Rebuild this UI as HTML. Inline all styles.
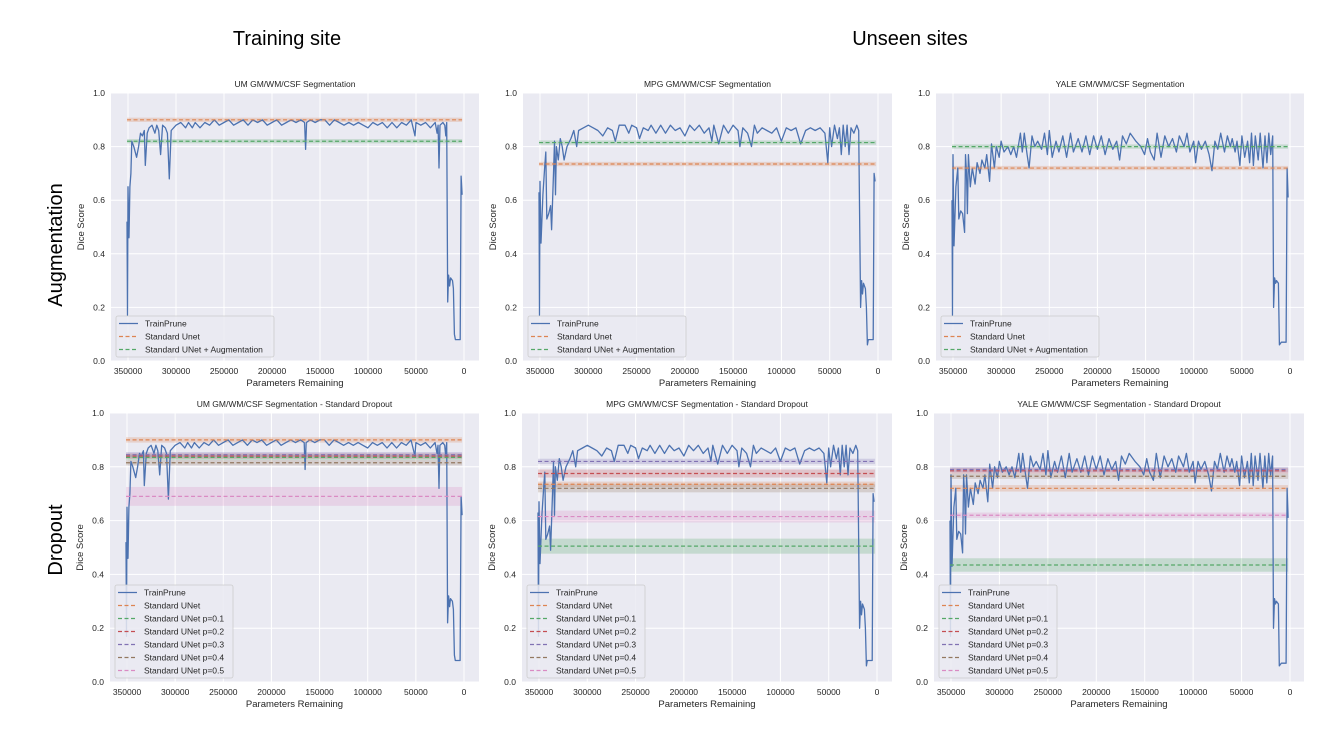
<!DOCTYPE html>
<html><head><meta charset="utf-8"><style>
body{margin:0;background:#fff;width:1333px;height:741px;overflow:hidden;font-family:"Liberation Sans",sans-serif}
</style></head><body>
<svg id="fig" width="1333" height="741" xmlns="http://www.w3.org/2000/svg" font-family="Liberation Sans, sans-serif">
<text x="287" y="45" font-size="20" text-anchor="middle">Training site</text>
<text x="910" y="45" font-size="20" text-anchor="middle">Unseen sites</text>
<text transform="translate(62,245) rotate(-90)" font-size="20" text-anchor="middle">Augmentation</text>
<text transform="translate(62,540) rotate(-90)" font-size="20" text-anchor="middle">Dropout</text>
</svg>
<script>
// TrainPrune data (x in thousands of parameters remaining, y = Dice)
const umX=[351,350.5,350,349,348,347,346,344,341,339,337,335,333,332,330,328,325,322,320,318,316,314,311,309,307,305,300,295,290,287,283,280,275,270,265,260,255,250,245,240,235,230,225,220,215,210,205,200,195,190,185,180,175,170,166,165,164,160,155,150,145,140,135,130,125,120,115,110,105,100,95,90,85,80,75,70,65,60,55,51,50,45,40,35,30,28,27,26,25,22,20,19,18,17,16,15,14,12,11,10,9,6,4,3,2];
const umY=[0.52,0.17,0.65,0.46,0.65,0.7,0.82,0.8,0.76,0.8,0.85,0.84,0.86,0.73,0.85,0.87,0.88,0.85,0.88,0.86,0.77,0.88,0.87,0.85,0.68,0.86,0.88,0.89,0.87,0.89,0.87,0.89,0.87,0.89,0.88,0.9,0.88,0.89,0.9,0.88,0.89,0.9,0.88,0.9,0.89,0.9,0.88,0.89,0.9,0.88,0.89,0.9,0.89,0.9,0.89,0.79,0.89,0.9,0.89,0.9,0.9,0.88,0.9,0.89,0.88,0.89,0.88,0.89,0.88,0.87,0.89,0.88,0.89,0.87,0.89,0.87,0.89,0.88,0.9,0.84,0.89,0.88,0.89,0.87,0.89,0.85,0.88,0.72,0.88,0.89,0.88,0.84,0.89,0.22,0.32,0.28,0.31,0.3,0.27,0.1,0.08,0.08,0.08,0.69,0.62];
const mpgX=[351,350.5,350,349,347,345,344,343,341,339,338,336,335,334,333,331,329,327,325,322,318,315,312,310,305,300,295,290,285,280,275,272,268,262,258,255,250,247,243,238,235,230,225,220,215,210,205,200,195,190,185,180,175,172,170,165,160,155,150,145,143,140,135,131,128,125,120,115,110,105,100,95,90,85,80,75,70,65,60,55,52,50,48,45,42,40,38,36,34,32,30,28,25,22,20,18,17,16,15,13,12,11,10,7,5,4,3];
const mpgY=[0.63,0.17,0.67,0.44,0.62,0.73,0.78,0.53,0.55,0.58,0.49,0.7,0.82,0.62,0.8,0.75,0.83,0.8,0.75,0.8,0.83,0.86,0.8,0.86,0.87,0.88,0.87,0.86,0.84,0.87,0.86,0.82,0.88,0.88,0.85,0.88,0.87,0.83,0.87,0.86,0.88,0.85,0.88,0.85,0.88,0.86,0.87,0.84,0.88,0.86,0.88,0.85,0.87,0.82,0.88,0.81,0.88,0.85,0.88,0.86,0.8,0.87,0.85,0.8,0.88,0.85,0.87,0.86,0.85,0.87,0.82,0.87,0.86,0.87,0.81,0.86,0.87,0.86,0.87,0.85,0.74,0.87,0.8,0.88,0.83,0.87,0.77,0.88,0.8,0.88,0.77,0.87,0.85,0.88,0.86,0.2,0.3,0.25,0.29,0.27,0.2,0.06,0.08,0.08,0.08,0.7,0.67];
const yaleX=[351,350.5,350,349,347,345,344,342,340,338,337,336,335,334,332,330,327,325,322,320,317,315,312,310,307,305,302,300,297,293,290,287,284,280,278,276,273,271,268,265,262,258,255,252,250,247,243,240,236,232,228,225,220,216,212,208,204,200,196,192,188,184,180,177,174,170,166,160,155,151,148,145,141,138,134,130,126,122,118,115,110,107,104,100,98,95,92,88,84,81,78,75,72,68,65,62,60,57,55,52,50,47,44,42,40,38,36,33,31,28,26,24,22,20,18,17,16,15,14,12,11,9,6,4,3,2];
const yaleY=[0.6,0.17,0.77,0.43,0.65,0.72,0.53,0.56,0.55,0.48,0.77,0.7,0.55,0.77,0.65,0.72,0.66,0.74,0.7,0.75,0.72,0.77,0.67,0.81,0.72,0.8,0.76,0.82,0.78,0.8,0.77,0.8,0.76,0.85,0.78,0.85,0.77,0.72,0.84,0.8,0.82,0.79,0.85,0.77,0.86,0.76,0.82,0.78,0.84,0.76,0.85,0.78,0.83,0.78,0.84,0.77,0.84,0.79,0.84,0.77,0.83,0.79,0.82,0.75,0.84,0.81,0.85,0.82,0.8,0.77,0.83,0.78,0.75,0.85,0.76,0.84,0.8,0.83,0.78,0.84,0.8,0.85,0.78,0.82,0.74,0.82,0.79,0.82,0.77,0.71,0.82,0.79,0.85,0.78,0.84,0.8,0.83,0.78,0.82,0.73,0.84,0.76,0.82,0.74,0.85,0.73,0.84,0.75,0.85,0.72,0.84,0.74,0.85,0.77,0.84,0.2,0.31,0.29,0.3,0.29,0.06,0.07,0.07,0.07,0.72,0.61];
// Baseline values (Standard UNet, Augmentation, dropout p=0.1..0.5)
const augLevels={UM:[0.90,0.82],MPG:[0.735,0.815],YALE:[0.72,0.80]};
const dropLevels={UM:[0.90,0.835,0.84,0.845,0.815,0.69],MPG:[0.735,0.505,0.775,0.82,0.72,0.615],YALE:[0.72,0.435,0.785,0.79,0.765,0.62]};
const dropBands={UM:[0.01,0.01,0.01,0.01,0.01,0.035],MPG:[0.01,0.028,0.015,0.01,0.015,0.022],YALE:[0.012,0.025,0.01,0.01,0.01,0.01]};
const xTicks=[350,300,250,200,150,100,50,0];
const yTicks=[0,0.2,0.4,0.6,0.8,1.0];
const colors=['#dd8452','#55a868','#c44e52','#8172b3','#937860','#da8bc3'];
const NS='http://www.w3.org/2000/svg';
const svg=document.getElementById('fig');
function mk(tag,attrs,parent){const e=document.createElementNS(NS,tag);for(const k in attrs)e.setAttribute(k,attrs[k]);(parent||svg).appendChild(e);return e;}
const panels=[
 {site:'UM',kind:'aug',title:'UM GM/WM/CSF Segmentation',L:111,R:479,T:93,B:361,x350:128,x0:464},
 {site:'MPG',kind:'aug',title:'MPG GM/WM/CSF Segmentation',L:523,R:892,T:93,B:361,x350:540,x0:878},
 {site:'YALE',kind:'aug',title:'YALE GM/WM/CSF Segmentation',L:936,R:1304,T:93,B:361,x350:953,x0:1290},
 {site:'UM',kind:'drop',title:'UM GM/WM/CSF Segmentation - Standard Dropout',L:110,R:479,T:413,B:682,x350:127,x0:464},
 {site:'MPG',kind:'drop',title:'MPG GM/WM/CSF Segmentation - Standard Dropout',L:522,R:892,T:413,B:682,x350:539,x0:877},
 {site:'YALE',kind:'drop',title:'YALE GM/WM/CSF Segmentation - Standard Dropout',L:934,R:1304,T:413,B:682,x350:951,x0:1290}
];
const series={UM:[umX,umY],MPG:[mpgX,mpgY],YALE:[yaleX,yaleY]};
panels.forEach(p=>{
 const g=mk('g',{});
 
 
 const sx=v=>p.x350+(350-v)/350*(p.x0-p.x350);
 const sy=v=>p.B-v*(p.B-p.T);
 const bg=mk('rect',{x:p.L,y:p.T,width:p.R-p.L,height:p.B-p.T,fill:'#eaeaf2'},g);
 
 
 yTicks.forEach(t=>{
  mk('line',{x1:p.L,x2:p.R,y1:sy(t),y2:sy(t),stroke:'#fff','stroke-width':1},g);
  const tl=mk('text',{x:p.L-6,y:sy(t)+3,'font-size':8.5,'text-anchor':'end',fill:'#262626'},g);
  tl.textContent=t.toFixed(1);
  
  
 });
 xTicks.forEach(t=>{
  mk('line',{x1:sx(t),x2:sx(t),y1:p.T,y2:p.B,stroke:'#fff','stroke-width':1},g);
  const tl=mk('text',{x:sx(t),y:p.B+13,'font-size':8.5,'text-anchor':'middle',fill:'#262626'},g);
  tl.textContent=String(t*1000);
  
  
 });
 const levels=p.kind==='aug'?augLevels[p.site]:dropLevels[p.site];
 const bands=p.kind==='aug'?[0.008,0.008]:dropBands[p.site];
 levels.forEach((v,i)=>{
  const b=mk('rect',{x:sx(351),y:sy(v+bands[i]),width:sx(2)-sx(351),height:sy(v-bands[i])-sy(v+bands[i]),fill:colors[i],opacity:0.25},g);
  
  
 });
 const [xs,ys]=series[p.site];
 let d='';xs.forEach((x,i)=>{d+=(i?'L':'M')+sx(x).toFixed(1)+','+sy(ys[i]).toFixed(1);});
 const ln=mk('path',{d:d,fill:'none',stroke:'#4c72b0','stroke-width':1.3,'stroke-linejoin':'round'},g);
 
 
 levels.forEach((v,i)=>{
  const l=mk('line',{x1:sx(351),x2:sx(2),y1:sy(v),y2:sy(v),stroke:colors[i],'stroke-width':1.2,'stroke-dasharray':'4,2.5'},g);
  
  
 });
 const tt=mk('text',{x:(p.L+p.R)/2,y:p.T-6,'font-size':8.5,'text-anchor':'middle',fill:'#262626'},g);
 tt.textContent=p.title;
 
 
 const xl=mk('text',{x:(p.L+p.R)/2,y:p.B+25,'font-size':9.5,'text-anchor':'middle',fill:'#262626'},g);
 xl.textContent='Parameters Remaining';
 
 
 const yl=mk('text',{transform:'translate('+(p.L-27)+','+((p.T+p.B)/2)+') rotate(-90)','font-size':9.5,'text-anchor':'middle',fill:'#262626'},g);
 yl.textContent='Dice Score';
 
 
 // legend
 const labels=p.kind==='aug'?['TrainPrune','Standard Unet','Standard UNet + Augmentation']:['TrainPrune','Standard UNet','Standard UNet p=0.1','Standard UNet p=0.2','Standard UNet p=0.3','Standard UNet p=0.4','Standard UNet p=0.5'];
 const lw=p.kind==='aug'?158:118;const lh=labels.length*13+2;
 const lx=p.L+5,ly=p.B-4-lh;
 const lg=mk('g',{},g);
 
 
 mk('rect',{x:lx,y:ly,width:lw,height:lh,fill:'#eaeaf2','fill-opacity':0.85,stroke:'#ccc','stroke-width':0.8,rx:2},lg);
 labels.forEach((lab,i)=>{
  const yy=ly+7.5+i*13;
  const c=i===0?'#4c72b0':colors[i-1];
  mk('line',{x1:lx+3,x2:lx+22,y1:yy,y2:yy,stroke:c,'stroke-width':1.3,'stroke-dasharray':i===0?'none':'4,2.5'},lg);
  const t=mk('text',{x:lx+29,y:yy+3,'font-size':8.5,fill:'#262626'},lg);
  t.textContent=lab;
  
  
 });
});
</script>
</body></html>
